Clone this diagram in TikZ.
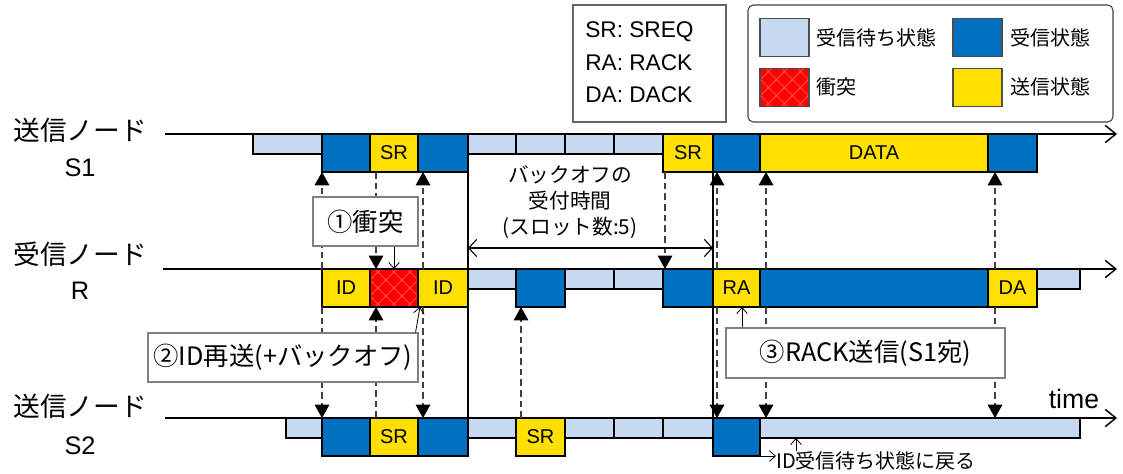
\documentclass[tikz,border=0pt]{standalone}
\usepackage{fontspec}
\setmainfont{Liberation Sans}
\newfontfamily\jp{Noto Sans CJK JP}
\usetikzlibrary{arrows.meta}
\definecolor{lbc}{HTML}{C6D9F1}
\definecolor{blc}{HTML}{0070C0}
\definecolor{ylc}{HTML}{FFE000}
\definecolor{rdc}{HTML}{FF0000}
\definecolor{hatchc}{HTML}{FF5050}
\newcommand\blk[7]{\node[blkst, #6, minimum width={((#3)-(#2))*0.75pt}, minimum height={(#5)*0.75pt}, anchor=north west] (#1) at (#2,#4) {#7};}
\tikzset{
  blkst/.style={draw=black, line width=1.1pt, inner sep=0pt, outer sep=0pt, font=\fontsize{15}{17}\selectfont},
  lbs/.style={fill=lbc}, bls/.style={fill=blc}, yls/.style={fill=ylc},
  rds/.style={fill=rdc, path picture={
    \foreach \k in {-5,...,5}{
      \draw[hatchc, line width=0.7pt] ([xshift=\k*12pt]path picture bounding box.center) ++(-40,-40) -- ++(80,80);
      \draw[hatchc, line width=0.7pt] ([xshift=\k*12pt]path picture bounding box.center) ++(-40,40) -- ++(80,-80);
    }}},
  axis/.style={line width=1.5pt, -{Straight Barb[length=8pt,width=13pt,line width=1.1pt]}},
  vline/.style={line width=1.5pt},
  dar/.style={draw=black!75, line width=0.8pt, dash pattern=on 5pt off 3pt, -{Triangle[length=10pt,width=11pt,color=black]}},
  dbl/.style={line width=0.8pt, {Straight Barb[length=6pt,width=13pt]}-{Straight Barb[length=6pt,width=13pt]}},
  cal/.style={line width=0.6pt, -{Straight Barb[length=4.5pt,width=8pt]}},
  cbox/.style={draw=black!50, line width=0.8pt, fill=white, inner sep=0pt, font=\jp\fontsize{19}{21}\selectfont},
  lab/.style={font=\jp\fontsize{20}{22}\selectfont},
  labs/.style={font=\fontsize{19}{21}\selectfont},
  sw/.style={draw=black!70, line width=0.8pt, inner sep=0pt, minimum width=49*0.75pt, minimum height=38*0.75pt},
  legt/.style={anchor=west, inner sep=0pt, font=\jp\fontsize{15}{17}\selectfont},
  abbr/.style={anchor=west, inner sep=0pt, font=\fontsize{17}{19}\selectfont}
}
\begin{document}
\begin{tikzpicture}[x=0.75pt,y=-0.75pt]
\useasboundingbox (0,0) rectangle (1123,474);

% ---- S1 row
\blk{s1a}{253}{322}{134}{20}{lbs}{}
\blk{s1b}{322}{370}{134}{38}{bls}{}
\blk{s1c}{370}{418}{134}{38}{yls}{SR}
\blk{s1d}{418}{468}{134}{38}{bls}{}
\blk{s1e}{468}{516}{134}{20}{lbs}{}
\blk{s1f}{516}{565}{134}{20}{lbs}{}
\blk{s1g}{565}{614}{134}{20}{lbs}{}
\blk{s1h}{614}{663}{134}{20}{lbs}{}
\blk{s1i}{663}{713}{134}{38}{yls}{SR}
\blk{s1j}{713}{760}{134}{38}{bls}{}
\blk{s1k}{760}{988}{134}{38}{yls}{DATA}
\blk{s1l}{988}{1037}{134}{38}{bls}{}
% ---- R row
\blk{ra}{322}{370}{269}{38}{yls}{ID}
\blk{rb}{370}{418}{269}{38}{rds}{}
\blk{rc}{418}{468}{269}{38}{yls}{ID}
\blk{rd}{468}{516}{269}{20}{lbs}{}
\blk{re}{516}{565}{269}{38}{bls}{}
\blk{rf}{565}{614}{269}{20}{lbs}{}
\blk{rg}{614}{663}{269}{20}{lbs}{}
\blk{rh}{663}{713}{269}{38}{bls}{}
\blk{ri}{713}{760}{269}{38}{yls}{RA}
\blk{rj}{760}{988}{269}{38}{bls}{}
\blk{rk}{988}{1037}{269}{38}{yls}{DA}
\blk{rl}{1037}{1080}{269}{20}{lbs}{}
% ---- S2 row
\blk{s2a}{286}{322}{418}{20}{lbs}{}
\blk{s2b}{322}{370}{418}{38}{bls}{}
\blk{s2c}{370}{418}{418}{38}{yls}{SR}
\blk{s2d}{418}{468}{418}{38}{bls}{}
\blk{s2e}{468}{516}{418}{20}{lbs}{}
\blk{s2f}{516}{565}{418}{38}{yls}{SR}
\blk{s2g}{565}{614}{418}{20}{lbs}{}
\blk{s2h}{614}{663}{418}{20}{lbs}{}
\blk{s2i}{663}{713}{418}{20}{lbs}{}
\blk{s2j}{713}{760}{418}{38}{bls}{}
\blk{s2k}{760}{1080}{418}{20}{lbs}{}

% ---- axes
\coordinate (s1ax) at (165,134); \coordinate (s1end) at (1117,134);
\coordinate (rax) at (163,269); \coordinate (rend) at (1117,269);
\coordinate (s2ax) at (165,418); \coordinate (s2end) at (1117,418);
\draw[axis] (s1ax) -- (s1end);
\draw[axis] (rax) -- (rend);
\draw[axis] (s2ax) -- (s2end);

% ---- node labels
\node[lab] (n1) at (80,130) {送信ノード};
\node[labs] (n1s) at (80,168) {S1};
\node[lab] (n2) at (80,254) {受信ノード};
\node[labs] (n2s) at (80,291) {R};
\node[lab] (n3) at (80,406) {送信ノード};
\node[labs] (n3s) at (80,446) {S2};
\node[font=\fontsize{20}{22}\selectfont] (tm) at (1074,399) {time};

% ---- solid vertical boundaries
\draw[vline] (s1d.north east) -- (s2d.south east);
\draw[vline] (s1i.north east) -- (s2j.south west);

% ---- dashed message arrows
\coordinate (x322) at (322,0); \coordinate (x376) at (376,0);
\coordinate (x423) at (423,0); \coordinate (x521) at (521,0);
\coordinate (x665) at (665,0); \coordinate (x717) at (717,0);
\coordinate (x766) at (766,0); \coordinate (x995) at (995,0);
\foreach \c in {x322,x423,x717,x766,x995}{
  \draw[dar] (\c |- rax) -- (\c |- s1b.south);
  \draw[dar] (\c |- ra.south) -- (\c |- s2ax);
}
\foreach \c in {x376,x665}{
  \draw[dar] (\c |- s1c.south) -- (\c |- rax);
}
\foreach \c in {x376,x521}{
  \draw[dar] (\c |- s2ax) -- (\c |- ra.south);
}

% ---- backoff window
\coordinate (bo1) at (468,248); \coordinate (bo2) at (713,248);
\draw[dbl] (bo1) -- (bo2);
\node[font=\jp\fontsize{15.5}{19.5}\selectfont, align=center] (bo) at (570,202) {バックオフの\\受付時間\\(スロット数:5)};

% ---- callouts
\node[cbox, minimum width=105*0.75pt, minimum height=49*0.75pt] (co1) at (365.5,221.5) {①衝突};
\draw[cal] (rb.north |- co1.south) -- (rb.north);
\node[cbox, minimum width=270*0.75pt, minimum height=49*0.75pt] (co2) at (283,357.5) {②ID再送(+バックオフ)};
\coordinate (p2) at (420,307);
\draw[cal] ([xshift=-2.25pt]co2.north east) -- (p2);
\node[cbox, minimum width=279*0.75pt, minimum height=50*0.75pt] (co3) at (865.5,353) {③RACK送信(S1宛)};
\coordinate (p3) at (742,0);
\draw[cal] (p3 |- co3.north) -- (p3 |- ri.south);
\node[legt] (ret) at (776,461) {ID受信待ち状態に戻る};
\draw[cal] (s2j.south east) -- (s2j.south east -| ret.west);
\coordinate (p4) at (796,0);
\draw[cal] (p4 |- ret.north) -- (p4 |- s2k.south);

% ---- legend 1
\node[draw=black!60, line width=0.8pt, minimum width=153*0.75pt, minimum height=117*0.75pt] (leg1) at (649.5,63.5) {};
\node[abbr] (a1) at (585,32) {SR: SREQ};
\node[abbr] (a2) at (585,63) {RA: RACK};
\node[abbr] (a3) at (585,95) {DA: DACK};
% ---- legend 2
\node[draw=black!75, rounded corners=4pt, line width=0.8pt, minimum width=365*0.75pt, minimum height=117*0.75pt] (leg2) at (930.5,63.5) {};
\node[sw, fill=lbc] (g1) at (784.5,37.5) {};
\node[sw, rds] (g2) at (784.5,87.5) {};
\node[sw, fill=blc] (g3) at (977.5,37.5) {};
\node[sw, fill=ylc] (g4) at (977.5,87.5) {};
\node[legt] (t1) at (816,38) {受信待ち状態};
\node[legt] (t2) at (816,87) {衝突};
\node[legt] (t3) at (1010,38) {受信状態};
\node[legt] (t4) at (1010,87) {送信状態};
\end{tikzpicture}
\end{document}
